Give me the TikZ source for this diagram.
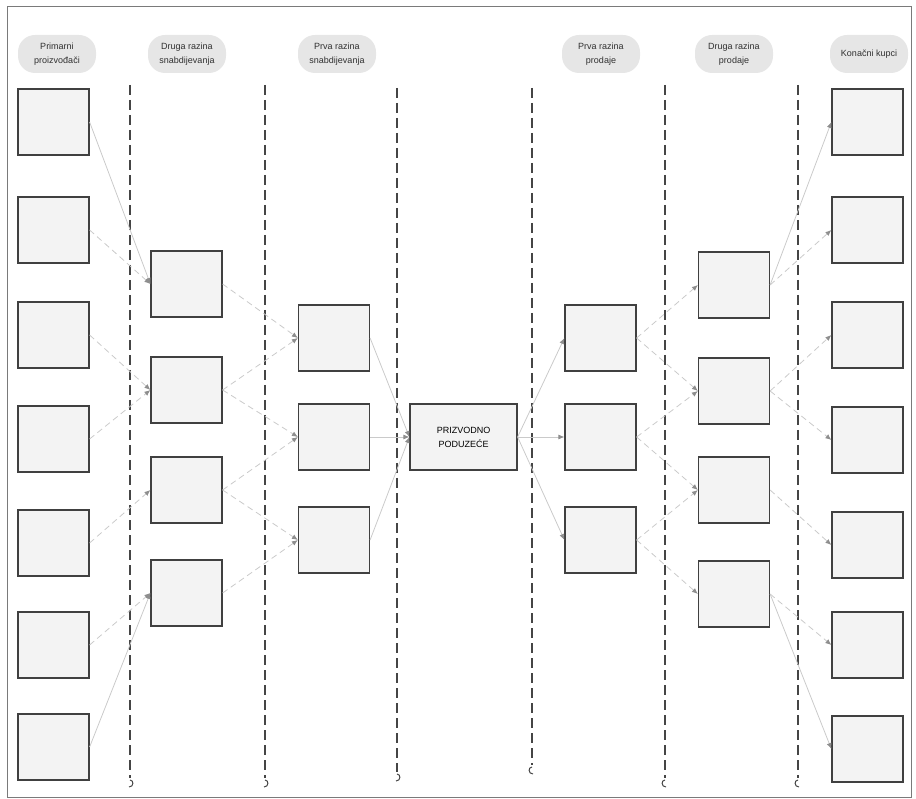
\documentclass[tikz,border=0pt]{standalone}
\usepackage{fontspec}
\setmainfont{Liberation Sans}
\usetikzlibrary{arrows.meta}
\definecolor{boxfill}{HTML}{F3F3F3}
\definecolor{boxline}{HTML}{404040}
\definecolor{headfill}{HTML}{E6E6E6}
\definecolor{headtext}{HTML}{303030}
\definecolor{laneline}{HTML}{454545}
\definecolor{linkline}{HTML}{CACACA}
\definecolor{tipcol}{HTML}{8E8E8E}
\definecolor{framecol}{HTML}{7A7A7A}

\begin{document}
\begin{tikzpicture}[x=1pt,y=-1pt,
  box/.style={draw=boxline,fill=boxfill,line width=1.2pt,minimum width=71pt,minimum height=66pt,inner sep=0pt},
  head/.style={fill=headfill,text=headtext,rounded corners=17pt,minimum width=78pt,minimum height=38pt,align=center,font=\fontsize{9}{14}\selectfont},
  lane/.style={draw=laneline,line width=1.1pt,dash pattern=on 10pt off 5pt},
  hook/.style={draw=laneline,line width=1pt},
  link/.style={draw=linkline,line width=0.8pt,-{Latex[length=6pt,width=5pt,color=tipcol]}},
  dlink/.style={link,dash pattern=on 6pt off 4pt}]
\useasboundingbox (0,0) rectangle (916,799);
\draw[framecol,line width=0.8pt] (7,6) rectangle (911,797);
% column headings
\node[head] (h1) at (57,54) {Primarni\\proizvođači};
\node[head] (h2) at (187,54) {Druga razina\\snabdijevanja};
\node[head] (h3) at (337,54) {Prva razina\\snabdijevanja};
\node[head] (h4) at (601,54) {Prva razina\\prodaje};
\node[head] (h5) at (734,54) {Druga razina\\prodaje};
\node[head] (h6) at (869,54) {Konačni kupci};
% dashed lanes
\draw[lane] (130,85) -- (130,778);
\draw[hook] (130,780) .. controls (134,780) and (134,787) .. (129,787);
\draw[lane] (265,85) -- (265,778);
\draw[hook] (265,780) .. controls (269,780) and (269,787) .. (264,787);
\draw[lane] (397,88) -- (397,772);
\draw[hook] (397,774) .. controls (401,774) and (401,781) .. (396,781);
\draw[lane] (532,88) -- (532,765);
\draw[hook] (532,767) .. controls (528,767) and (528,774) .. (533,774);
\draw[lane] (665,85) -- (665,778);
\draw[hook] (665,780) .. controls (661,780) and (661,787) .. (666,787);
\draw[lane] (798,85) -- (798,778);
\draw[hook] (798,780) .. controls (794,780) and (794,787) .. (799,787);
% primarni proizvodjaci
\node[box] (pp1) at (53.5,122) {};
\node[box] (pp2) at (53.5,230) {};
\node[box] (pp3) at (53.5,335) {};
\node[box] (pp4) at (53.5,439) {};
\node[box] (pp5) at (53.5,543) {};
\node[box] (pp6) at (53.5,645) {};
\node[box] (pp7) at (53.5,747) {};
% druga razina snabdijevanja
\node[box] (ds1) at (186.5,284) {};
\node[box] (ds2) at (186.5,390) {};
\node[box] (ds3) at (186.5,490) {};
\node[box] (ds4) at (186.5,593) {};
% prva razina snabdijevanja
\node[box] (ps1) at (334,338) {};
\node[box] (ps2) at (334,437) {};
\node[box] (ps3) at (334,540) {};
% poduzece
\node[box,minimum width=107pt,align=center,font=\fontsize{9}{14}\selectfont] (pod) at (463.5,437) {PRIZVODNO\\PODUZEĆE};
% prva razina prodaje
\node[box] (pr1) at (600.5,338) {};
\node[box] (pr2) at (600.5,437) {};
\node[box] (pr3) at (600.5,540) {};
% druga razina prodaje
\node[box] (dp1) at (734,285) {};
\node[box] (dp2) at (734,391) {};
\node[box] (dp3) at (734,490) {};
\node[box] (dp4) at (734,594) {};
% konacni kupci
\node[box] (kk1) at (867.5,122) {};
\node[box] (kk2) at (867.5,230) {};
\node[box] (kk3) at (867.5,335) {};
\node[box] (kk4) at (867.5,440) {};
\node[box] (kk5) at (867.5,545) {};
\node[box] (kk6) at (867.5,645) {};
\node[box] (kk7) at (867.5,749) {};
% flows
\draw[link] (pp1.east) -- (ds1.west);
\draw[dlink] (pp2.east) -- (ds1.west);
\draw[dlink] (pp3.east) -- (ds2.west);
\draw[dlink] (pp4.east) -- (ds2.west);
\draw[dlink] (pp5.east) -- (ds3.west);
\draw[dlink] (pp6.east) -- (ds4.west);
\draw[link] (pp7.east) -- (ds4.west);
\draw[dlink] (ds1.east) -- (ps1.west);
\draw[dlink] (ds2.east) -- (ps1.west);
\draw[dlink] (ds2.east) -- (ps2.west);
\draw[dlink] (ds3.east) -- (ps2.west);
\draw[dlink] (ds3.east) -- (ps3.west);
\draw[dlink] (ds4.east) -- (ps3.west);
\draw[link] (ps1.east) -- (pod.west);
\draw[link] (ps2.east) -- (pod.west);
\draw[link] (ps3.east) -- (pod.west);
\draw[link] (pod.east) -- (pr1.west);
\draw[link] (pod.east) -- (pr2.west);
\draw[link] (pod.east) -- (pr3.west);
\draw[dlink] (pr1.east) -- (dp1.west);
\draw[dlink] (pr1.east) -- (dp2.west);
\draw[dlink] (pr2.east) -- (dp2.west);
\draw[dlink] (pr2.east) -- (dp3.west);
\draw[dlink] (pr3.east) -- (dp3.west);
\draw[dlink] (pr3.east) -- (dp4.west);
\draw[link] (dp1.east) -- (kk1.west);
\draw[dlink] (dp1.east) -- (kk2.west);
\draw[dlink] (dp2.east) -- (kk3.west);
\draw[dlink] (dp2.east) -- (kk4.west);
\draw[dlink] (dp3.east) -- (kk5.west);
\draw[dlink] (dp4.east) -- (kk6.west);
\draw[link] (dp4.east) -- (kk7.west);
\end{tikzpicture}
\end{document}
